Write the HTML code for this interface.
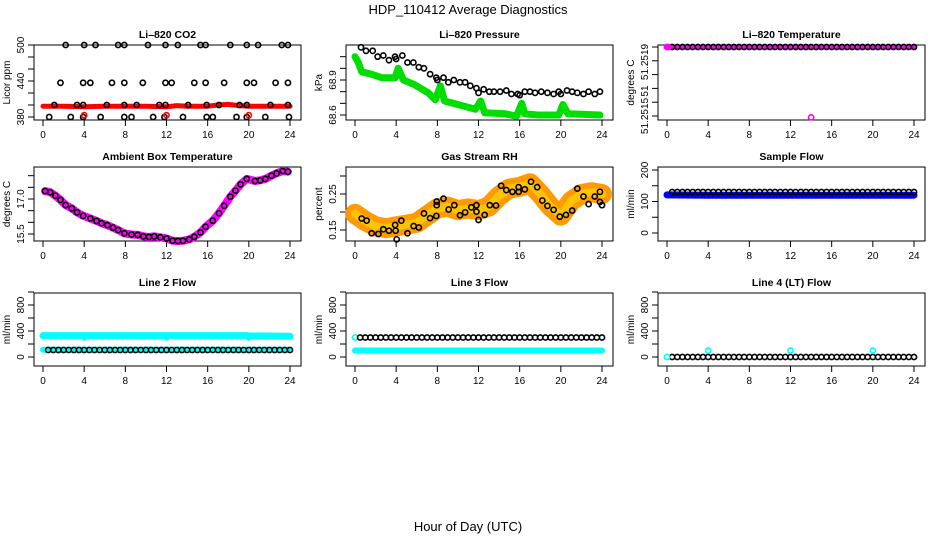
<!DOCTYPE html>
<html><head><meta charset="utf-8"><style>
html,body{margin:0;padding:0;background:#fff;width:936px;height:540px;overflow:hidden}
svg text{font-family:"Liberation Sans",sans-serif}
</style></head><body>
<svg id="chart" width="936" height="540" viewBox="0 0 936 540" xmlns="http://www.w3.org/2000/svg">
<text x="468" y="14" text-anchor="middle" font-size="13">HDP_110412  Average Diagnostics</text>
<text x="468" y="531" text-anchor="middle" font-size="13">Hour of Day (UTC)</text>
</svg>
<script>
// ---------- data ----------
const hourTicks = [0,4,8,12,16,20,24];
const halfHours = [0.5,1,1.5,2,2.5,3,3.5,4,4.5,5,5.5,6,6.5,7,7.5,8,8.5,9,9.5,10,10.5,11,11.5,12,12.5,13,13.5,14,14.5,15,15.5,16,16.5,17,17.5,18,18.5,19,19.5,20,20.5,21,21.5,22,22.5,23,23.5,24];
// CO2
const co2HiHours = [2.2,4.0,5.1,7.3,7.9,10.2,11.9,13.1,15.3,15.8,18.2,19.8,20.9,23.2,23.8];
const co2HiVals = [500,500,500,500,500,500,500,500,500,500,500,500,500,500,500];
const co2MidHours = [1.7,3.9,4.6,6.7,7.9,9.7,11.9,12.5,14.7,15.8,17.6,19.8,20.5,22.6,23.8];
const co2MidVals = [437,437,437,437,437,437,437,437,437,437,437,437,437,437,437];
const co2LowHours = [1.1,3.3,3.9,6.2,7.9,9.1,11.3,11.9,14.1,15.9,17.1,19.1,19.8,22.1,23.8];
const co2LowVals = [400,400,400,400,400,400,400,400,400,400,400,400,400,400,400];
const co2MinHours = [0.6,2.7,3.9,5.6,7.9,8.6,10.7,11.8,13.6,15.9,16.5,18.8,19.8,21.6,23.9];
const co2MinVals = [380,380,380,380,380,380,380,380,380,380,380,380,380,380,380];
const co2RedHours = [4,12,20];
const co2RedVals = [383,383,383];
const co2BandHours = [0,2,4,6,8,10,12,13,14,16,17,18,19,20,22,24];
const co2BandVals = [398,398,397,398,398,398,397,399,398,398,400,401,399,398,398,398];
// Pressure
const presHours = [0.58,1.07,1.72,2.2,2.75,3.3,3.89,4.0,4.6,5.1,5.67,6.2,6.7,7.3,7.9,8.0,8.6,9.07,9.6,10.2,10.7,11.2,11.8,12.0,12.5,13.05,13.5,14.1,14.7,15.2,15.8,16.0,16.5,17.0,17.5,18.1,18.7,19.3,19.8,20.0,20.6,21.1,21.6,22.2,22.7,23.3,23.8];
const presVals = [69.18,69.15,69.15,69.10,69.11,69.07,69.10,69.08,69.11,69.05,69.05,69.01,69.0,68.95,68.92,68.90,68.92,68.88,68.90,68.88,68.88,68.85,68.83,68.79,68.82,68.80,68.80,68.80,68.81,68.78,68.78,68.77,68.80,68.80,68.79,68.80,68.79,68.78,68.80,68.78,68.81,68.80,68.79,68.78,68.80,68.78,68.80];
const presGreenHours = [0,0.32,0.65,1.6,2.6,3.9,4.2,4.7,5.8,7.1,7.8,8.3,8.7,10.0,11.7,12.2,12.6,14.6,15.7,16.2,16.5,17.8,19.8,20.2,20.7,23.8];
const presGreenVals = [69.10,69.05,68.97,68.95,68.92,68.92,69.0,68.90,68.86,68.79,68.73,68.85,68.72,68.69,68.65,68.72,68.62,68.61,68.59,68.70,68.61,68.60,68.60,68.69,68.61,68.60];
// Li-820 temperature
const tempVals = [51.2519,51.2519,51.2519,51.2519,51.2519,51.2519,51.2519,51.2519,51.2519,51.2519,51.2519,51.2519,51.2519,51.2519,51.2519,51.2519,51.2519,51.2519,51.2519,51.2519,51.2519,51.2519,51.2519,51.2519,51.2519,51.2519,51.2519,51.2519,51.2519,51.2519,51.2519,51.2519,51.2519,51.2519,51.2519,51.2519,51.2519,51.2519,51.2519,51.2519,51.2519,51.2519,51.2519,51.2519,51.2519,51.2519,51.2519,51.2519];
const tempMagHours = [0,0.1,14];
const tempMagVals = [51.2519,51.2519,51.25139];
// Ambient
const ambHours = [0.2,0.7,1.2,1.7,2.2,2.8,3.3,3.9,4.6,5.2,5.7,6.25,6.8,7.3,7.9,8.6,9.2,9.75,10.3,10.8,11.4,12.0,12.6,13.1,13.6,14.2,14.7,15.3,15.8,16.5,17.1,17.6,18.2,18.7,19.2,19.8,20.6,21.1,21.6,22.2,22.7,23.3,23.8];
const ambVals = [17.34,17.29,17.14,16.96,16.74,16.6,16.43,16.28,16.17,16.06,15.96,15.88,15.77,15.67,15.53,15.48,15.46,15.4,15.37,15.4,15.36,15.31,15.21,15.2,15.21,15.27,15.38,15.57,15.81,16.07,16.39,16.71,17.1,17.36,17.63,17.86,17.77,17.8,17.86,18.0,18.1,18.2,18.17];
// Gas stream RH
const rhHours = [0.65,1.13,1.62,2.27,2.75,3.3,3.9,3.95,4.05,4.5,5.1,5.7,6.2,6.7,7.3,7.9,7.94,7.94,8.6,9.1,9.65,10.2,10.7,11.3,11.8,11.8,12.0,12.6,13.1,13.7,14.2,14.7,15.3,15.9,15.9,16.5,17.1,17.7,18.2,18.7,19.3,19.9,20.5,21.1,21.6,22.2,22.7,23.3,23.8,23.8,24.0];
const rhVals = [0.182,0.176,0.141,0.139,0.152,0.148,0.164,0.148,0.124,0.176,0.141,0.161,0.157,0.196,0.183,0.189,0.219,0.229,0.237,0.207,0.219,0.191,0.199,0.213,0.219,0.201,0.178,0.192,0.219,0.218,0.273,0.261,0.256,0.269,0.256,0.263,0.284,0.269,0.232,0.217,0.206,0.187,0.192,0.204,0.265,0.243,0.222,0.243,0.256,0.228,0.219];
const rhBandHours = [0,1,2,3,4,5,6,7,8,9,10,11,12,13,14,15,16,17,18,19,20,21,22,23,24];
const rhBandVals = [0.195,0.175,0.16,0.155,0.16,0.165,0.17,0.19,0.21,0.215,0.205,0.21,0.205,0.215,0.245,0.265,0.27,0.28,0.25,0.215,0.19,0.23,0.25,0.255,0.25];
// Sample flow
const sampleVals = [130,130,130,130,130,130,130,130,130,130,130,130,130,130,130,130,130,130,130,130,130,130,130,130,130,130,130,130,130,130,130,130,130,130,130,130,130,130,130,130,130,130,130,130,130,130,130,130];
const sampleBandHours = [0,4,8,12,16,20,24];
const sampleBandVals = [121,120,120,120,120,120,120];
// Line 2
const line2Vals = [108,108,108,108,108,108,108,108,108,108,108,108,108,108,108,108,108,108,108,108,108,108,108,108,108,108,108,108,108,108,108,108,108,108,108,108,108,108,108,108,108,108,108,108,108,108,108,108];
const line2CyanHours = [0,3.9,4,4.1,11.9,12,12.1,19.9,20,20.1,24];
const line2CyanVals = [330,330,305,330,330,305,330,330,305,325,320];
const line2Cyan2Hours = [0,24];
const line2Cyan2Vals = [112,112];
// Line 3
const line3Vals = [300,300,300,300,300,300,300,300,300,300,300,300,300,300,300,300,300,300,300,300,300,300,300,300,300,300,300,300,300,300,300,300,300,300,300,300,300,300,300,300,300,300,300,300,300,300,300,300];
const line3CyanHours = [0,24];
const line3CyanVals = [100,100];
// Line 4
const line4Vals = [0,0,0,0,0,0,0,0,0,0,0,0,0,0,0,0,0,0,0,0,0,0,0,0,0,0,0,0,0,0,0,0,0,0,0,0,0,0,0,0,0,0,0,0,0,0,0,0];
const line4CyanHours = [0,4,12,20];
const line4CyanVals = [0,100,100,100];

// ---------- drawing ----------
const NS = 'http://www.w3.org/2000/svg';
const svg = document.getElementById('chart');
function mk(tag, attrs, parent) {
  const e = document.createElementNS(NS, tag);
  for (const k in attrs) e.setAttribute(k, attrs[k]);
  (parent || svg).appendChild(e);
  return e;
}
function panel(p) {
  const g = mk('g', {});
  
  
  const W = 267;
  const x = h => p.left + 9 + h * (247 / 24);
  const y = v => p.p1 + (v - p.v1) * (p.p2 - p.p1) / (p.v2 - p.v1);
  p.x = x; p.y = y;
  const box = mk('rect', {x: p.left, y: p.top, width: W, height: p.bottom - p.top, fill: 'none', stroke: '#000', 'stroke-width': 1}, g);
  
  
  const t = mk('text', {x: p.left + W / 2, y: p.top - 7, 'text-anchor': 'middle', 'font-size': 10.5, 'font-weight': 'bold'}, g);
  t.textContent = p.title;
  
  
  hourTicks.forEach(h => {
    const tk = mk('line', {x1: x(h), x2: x(h), y1: p.bottom, y2: p.bottom + 6, stroke: '#000'}, g);
    
    
    const lb = mk('text', {x: x(h), y: p.bottom + 18, 'text-anchor': 'middle', 'font-size': 10}, g);
    lb.textContent = h;
    
    
  });
  p.yticks.forEach(v => {
    const tk = mk('line', {x1: p.left - 6, x2: p.left, y1: y(v), y2: y(v), stroke: '#000'}, g);
    
    
  });
  p.ylabels.forEach((lab, i) => {
    const yy = p.ylabelPos ? p.ylabelPos[i] : y(parseFloat(lab));
    const tx = p.left - 10;
    const lb = mk('text', {x: tx, y: yy, 'text-anchor': 'middle', 'font-size': 10, transform: `rotate(-90 ${tx} ${yy})`}, g);
    lb.textContent = lab;
    
    
  });
  const ax = p.left - 24, ay = (p.top + p.bottom) / 2;
  const at = mk('text', {x: ax, y: ay, 'text-anchor': 'middle', 'font-size': 10, transform: `rotate(-90 ${ax} ${ay})`}, g);
  at.textContent = p.ytitle;
  
  
  p.g = g;
  return p;
}
function band(p, hs, vs, color, w, name) {
  const pts = hs.map((h, i) => p.x(h).toFixed(1) + ',' + p.y(vs[i]).toFixed(1)).join(' ');
  const l = mk('polyline', {points: pts, fill: 'none', stroke: color, 'stroke-width': w, 'stroke-linejoin': 'round', 'stroke-linecap': 'round'}, p.g);
  
  
}
function pts(p, hs, vs, color, name) {
  hs.forEach((h, i) => {
    const c = mk('circle', {cx: p.x(h), cy: p.y(vs[i]), r: 2.6, fill: 'none', stroke: color, 'stroke-width': 1.6}, p.g);
    
    
  });
}

const p1 = panel({name:'co2-panel', title:'Li\u2013820 CO2', left:34, top:45, bottom:120, v1:380, p1:117, v2:500, p2:45, yticks:[380,400,420,440,460,480,500], ylabels:['380','440','500'], ytitle:'Licor ppm'});
band(p1, co2BandHours, co2BandVals, '#ff0000', 5, 'co2-red-band');
pts(p1, co2HiHours, co2HiVals, '#000', 'co2-point');
pts(p1, co2MidHours, co2MidVals, '#000', 'co2-point');
pts(p1, co2LowHours, co2LowVals, '#000', 'co2-point');
pts(p1, co2MinHours, co2MinVals, '#000', 'co2-point');
pts(p1, co2RedHours, co2RedVals, '#ff0000', 'co2-red-point');

const p2 = panel({name:'pressure-panel', title:'Li\u2013820 Pressure', left:346, top:45, bottom:120, v1:68.6, p1:115, v2:68.9, p2:80, yticks:[68.6,68.7,68.8,68.9,69.0,69.1], ylabels:['68.6','68.9'], ytitle:'kPa'});
band(p2, presGreenHours, presGreenVals, '#00dd00', 7, 'pressure-green-band');
pts(p2, presHours, presVals, '#000', 'pressure-point');

const p3 = panel({name:'li820-temperature-panel', title:'Li\u2013820 Temperature', left:658, top:45, bottom:120, v1:51.2519, p1:47, v2:51.2514, p2:116, yticks:[51.2519,51.2518,51.2517,51.2516,51.2515,51.2514], ylabels:['51.2519','51','51.2515'], ylabelPos:[62,91,116], ytitle:'degrees C'});
band(p3, [0,24], [51.2519,51.2519], '#ff00ff', 5, 'temperature-magenta-band');
pts(p3, halfHours, tempVals, '#000', 'temperature-point');
pts(p3, tempMagHours, tempMagVals, '#ff00ff', 'temperature-magenta-point');

const p4 = panel({name:'ambient-temperature-panel', title:'Ambient Box Temperature', left:34, top:167, bottom:241, v1:15.5, p1:234, v2:17.0, p2:199, yticks:[15.5,16.0,16.5,17.0,17.5,18.0], ylabels:['15.5','17.0'], ytitle:'degrees C'});
band(p4, ambHours, ambVals, '#ff00ff', 8, 'ambient-magenta-band');
pts(p4, ambHours, ambVals, '#000', 'ambient-point');

const p5 = panel({name:'gas-rh-panel', title:'Gas Stream RH', left:346, top:167, bottom:241, v1:0.15, p1:230, v2:0.25, p2:194, yticks:[0.15,0.2,0.25,0.3], ylabels:['0.15','0.25'], ytitle:'percent'});
band(p5, rhBandHours, rhBandVals, '#ff9a00', 20, 'rh-orange-band');
band(p5, rhBandHours, rhBandVals, '#ffc400', 8, 'rh-yellow-core');
pts(p5, rhHours, rhVals, '#000', 'rh-point');

const p6 = panel({name:'sample-flow-panel', title:'Sample Flow', left:658, top:167, bottom:241, v1:0, p1:233, v2:200, p2:170, yticks:[0,50,100,150,200], ylabels:['0','100','200'], ytitle:'ml/min'});
band(p6, sampleBandHours, sampleBandVals, '#0000ff', 7, 'sample-blue-band');
pts(p6, halfHours, sampleVals, '#000', 'sample-point');

const rowY = {v1:0, p1:357, v2:800, p2:305, yticks:[0,200,400,600,800,1000], ylabels:['0','400','800'], ytitle:'ml/min', top:293, bottom:366};
const p7 = panel(Object.assign({name:'line2-flow-panel', title:'Line 2 Flow', left:34}, rowY));
band(p7, line2CyanHours, line2CyanVals, '#00ffff', 7, 'line2-cyan-band');
band(p7, line2Cyan2Hours, line2Cyan2Vals, '#00ffff', 6, 'line2-cyan-low-band');
pts(p7, halfHours, line2Vals, '#000', 'line2-point');

const p8 = panel(Object.assign({name:'line3-flow-panel', title:'Line 3 Flow', left:346}, rowY));
band(p8, line3CyanHours, line3CyanVals, '#00ffff', 6, 'line3-cyan-band');
pts(p8, [0], [300], '#00ffff', 'line3-cyan-point');
pts(p8, halfHours, line3Vals, '#000', 'line3-point');

const p9 = panel(Object.assign({name:'line4-flow-panel', title:'Line 4 (LT) Flow', left:658}, rowY));
pts(p9, halfHours, line4Vals, '#000', 'line4-point');
pts(p9, line4CyanHours, line4CyanVals, '#00ffff', 'line4-cyan-point');
</script>
</body></html>
